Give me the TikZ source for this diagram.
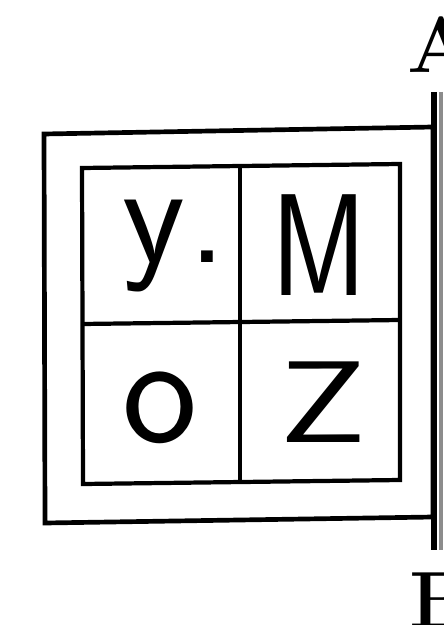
\documentclass[tikz,border=0pt]{standalone}
\usepackage{fontspec}
\newfontfamily\thinsans{lmsans17-regular.otf}
\usetikzlibrary{positioning}

\begin{document}
\begin{tikzpicture}[x=0.03cm, y=-0.03cm,
    frame/.style={line width=4pt},
    gridline/.style={line width=3.6pt},
    letter/.style={inner sep=0pt, font=\fontsize{124}{124}\selectfont\thinsans},
    endlabel/.style={inner sep=0pt, font=\fontsize{68}{68}\selectfont\bfseries}]
    % Page size
    \useasboundingbox (0,0) rectangle (443,625);
    \clip (0,0) rectangle (443,625);

    % Outer frame (slightly skewed)
    \draw[frame] (44,134) -- (433,127) -- (433,517) -- (45,523) -- cycle;

    % Inner 2x2 grid
    \draw[gridline] (82,168) -- (400,164) -- (400,480) -- (83,484) -- cycle;
    \draw[gridline] (240,166) -- (240,482);
    \draw[gridline] (82,324) -- (400,320);

    % Letters in the cells
    \node[letter, anchor=base west] (ycell) at (122,262) {y\kern3pt.};
    \node[letter, anchor=base] (mcell) at (319,295) {\scalebox{0.8}[1]{M}};
    \node[letter, anchor=base] (ocell) at (160,442) {\scalebox{1.1}{o}};
    \node[letter, anchor=base] (zcell) at (323,442) {\scalebox{1.05}[0.8]{Z}};

    % Line AB
    \coordinate (topend) at (434,92);
    \coordinate (bottomend) at (434,550);
    \draw[line width=5pt] (topend) -- (bottomend);
    \draw[line width=4pt, black!45] ([xshift=6pt]topend) -- ([xshift=6pt]bottomend);
    \node[endlabel, anchor=north] (A) at (441,17) {A};
    \node[endlabel, anchor=north] (B) at (441,573) {B};

\end{tikzpicture}
\end{document}
